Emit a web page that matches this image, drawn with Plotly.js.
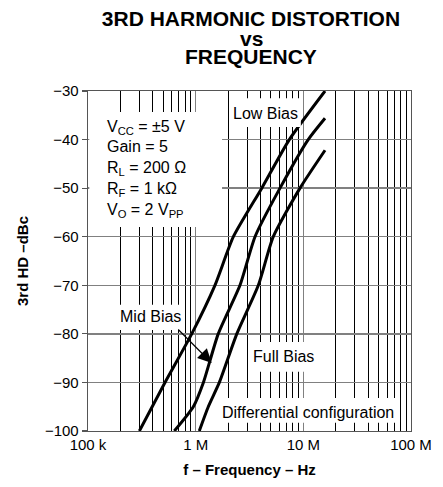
<!DOCTYPE html>
<html>
<head>
<meta charset="utf-8">
<script src="https://cdn.plot.ly/plotly-3.0.1.min.js"></script>
<style>html,body{margin:0;padding:0;background:#fff;}#chart{width:443px;height:487px;}</style>
</head>
<body>
<div id="chart"></div>
<script>
// ---- data ----
const seriesNames = ['Low Bias', 'Mid Bias', 'Full Bias'];
const lowFreq  = [0.300e6, 0.519e6, 0.919e6, 1.51e6, 2.24e6, 4.11e6, 7.41e6, 15.9e6];
const lowHD    = [-100, -90, -80, -70, -60, -50, -40, -30];
const midFreq  = [0.633e6, 0.951e6, 1.18e6, 1.62e6, 2.58e6, 3.56e6, 6.07e6, 11.1e6, 15.9e6];
const midHD    = [-100, -95, -90, -80, -70, -60, -50, -40, -35.6];
const fullFreq = [1.08e6, 1.31e6, 1.66e6, 2.41e6, 3.82e6, 5.26e6, 9.31e6, 15.9e6];
const fullHD   = [-100, -95, -90, -80, -70, -60, -50, -42.2];
const xTickVals  = [1e5, 1e6, 1e7, 1e8];
const xTickText  = ['100 k', '1 M', '10 M', '100 M'];
const xMinorVals = [2e5,3e5,4e5,5e5,6e5,7e5,8e5,9e5, 2e6,3e6,4e6,5e6,6e6,7e6,8e6,9e6, 2e7,3e7,4e7,5e7,6e7,7e7,8e7,9e7];
const yTickVals  = [-100, -90, -80, -70, -60, -50, -40, -30];
const conditions = ['V<sub>CC</sub> = ±5 V', 'Gain = 5', 'R<sub>L</sub> = 200 Ω', 'R<sub>F</sub> = 1 kΩ', 'V<sub>O</sub> = 2 V<sub>PP</sub>'];
const titleLines = ['3RD HARMONIC DISTORTION', 'vs', 'FREQUENCY'];

const FONT = 'Liberation Sans, Arial, Helvetica, sans-serif';
const lineStyle = {color: '#000', width: 3, shape: 'spline', smoothing: 0.6};

const traces = [
  {x: lowFreq,  y: lowHD,  name: seriesNames[0]},
  {x: midFreq,  y: midHD,  name: seriesNames[1]},
  {x: fullFreq, y: fullHD, name: seriesNames[2]}
].map(t => Object.assign(t, {type: 'scatter', mode: 'lines', line: lineStyle, hoverinfo: 'skip'}));

const txt = (text, x, y, extra) => Object.assign({
  text: text, x: x, y: y, xref: 'paper', yref: 'paper',
  xanchor: 'center', yanchor: 'middle', showarrow: false,
  font: {family: FONT, size: 16, color: '#000'}
}, extra || {});

const titleFont = {family: FONT, size: 21, color: '#000', weight: 'bold'};
const condY = [0.893, 0.836, 0.773, 0.711, 0.649];
const annotations = [
  txt(titleLines[1], 0.505, 1.154, {font: titleFont}),
  txt(titleLines[2], 0.505, 1.102, {font: titleFont}),
  txt(seriesNames[0], 0.548, 0.935),
  txt(seriesNames[1], 0.192, 0.337),
  txt(seriesNames[2], 0.604, 0.219),
  txt('Differential configuration', 0.680, 0.054),
  // Mid Bias arrow
  {x: Math.log10(1.41e6), y: -86.0, xref: 'x', yref: 'y', text: '', showarrow: true,
   ax: -35, ay: -35, arrowhead: 2, arrowsize: 2.3, arrowwidth: 1.2, arrowcolor: '#000'}
].concat(conditions.map((c, i) => txt(c, 0.054, condY[i], {xanchor: 'left'})));

const box = (x0, x1, y0, y1) => ({type: 'rect', xref: 'paper', yref: 'paper', x0: x0, x1: x1, y0: y0, y1: y1,
  fillcolor: '#fff', line: {width: 0}, layer: 'above'});
const shapes = [
  box(0.004, 0.415, 0.600, 0.938),
  box(0.443, 0.659, 0.894, 0.979),
  box(0.080, 0.297, 0.297, 0.371),
  box(0.502, 0.712, 0.174, 0.262),
  box(0.396, 0.966, 0.024, 0.097)
];

const layout = {
  width: 443, height: 487,
  margin: {l: 88, r: 32, t: 91, b: 56},
  paper_bgcolor: '#fff', plot_bgcolor: '#fff',
  showlegend: false,
  font: {family: FONT, size: 15, color: '#000'},
  title: {text: titleLines[0], x: 0.5665, xanchor: 'center', y: 0.9616, yanchor: 'middle',
          font: titleFont},
  xaxis: {
    type: 'log', range: [5, 8], tickmode: 'array', tickvals: xTickVals, ticktext: xTickText,
    ticks: '', showgrid: true, gridcolor: '#808080', gridwidth: 1.3,
    minor: {tickmode: 'array', tickvals: xMinorVals, showgrid: true, gridcolor: '#000', gridwidth: 1, ticks: ''},
    showline: true, linecolor: '#555', linewidth: 1.3, mirror: true, zeroline: false,
    tickfont: {family: FONT, size: 15, color: '#000'},
    title: {text: 'f – Frequency – Hz', font: {family: FONT, size: 15, color: '#000', weight: 'bold'}, standoff: 12}
  },
  yaxis: {
    range: [-100, -30], tickmode: 'array', tickvals: yTickVals,
    ticks: 'outside', ticklen: 5, tickcolor: '#555', tickwidth: 1.2,
    showgrid: true, gridcolor: '#808080', gridwidth: 1.3,
    showline: true, linecolor: '#555', linewidth: 1.3, mirror: true, zeroline: false,
    tickfont: {family: FONT, size: 15, color: '#000'},
    title: {text: '3rd HD –dBc', font: {family: FONT, size: 15, color: '#000', weight: 'bold'}, standoff: 12}
  },
  annotations: annotations,
  shapes: shapes
};

Plotly.newPlot('chart', traces, layout, {staticPlot: true, displayModeBar: false});
</script>
</body>
</html>
